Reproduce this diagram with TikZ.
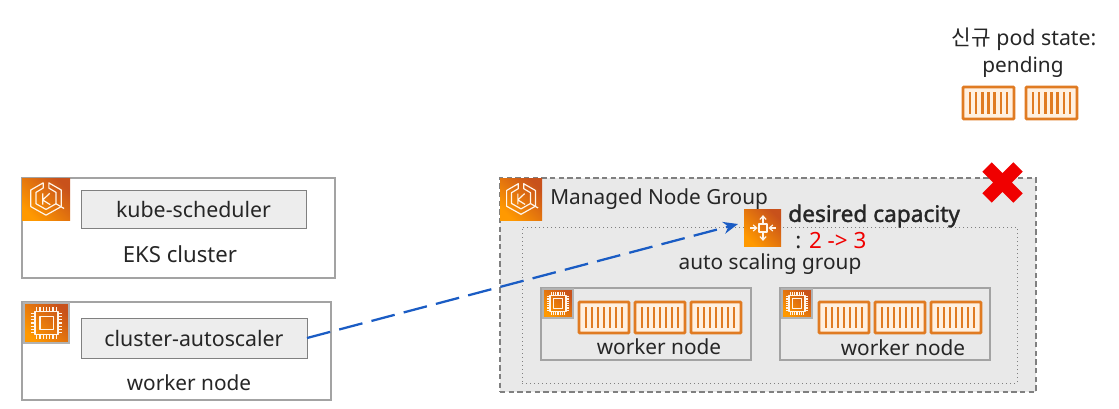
\documentclass[tikz,border=0pt]{standalone}
\usepackage{fontspec}
\setmainfont{Noto Sans}
\newfontfamily\krfont{Noto Sans CJK KR}
\newfontfamily\boldfam{Noto Sans}[FakeBold=1.6]
\usetikzlibrary{arrows.meta}
\definecolor{ink}{HTML}{262626}
\definecolor{frame}{HTML}{A3A3A3}
\definecolor{panel}{HTML}{E9E9E9}
\definecolor{inner}{HTML}{EDEDED}
\definecolor{orangeD}{HTML}{C8511B}
\definecolor{orangeL}{HTML}{FF9900}
\definecolor{podc}{HTML}{E07B22}
\definecolor{arrowblue}{HTML}{1A5CC4}
\definecolor{xred}{HTML}{F00000}
\tikzset{
  lbl/.style={text=ink,font=\fontsize{15.6pt}{18pt}\selectfont,inner sep=0pt},
  plainbox/.style={draw=frame,line width=1.2pt,fill=white},
  nodebox/.style={draw=frame,line width=1.2pt,fill=panel},
  procbox/.style={draw=black!50,line width=.7pt,fill=inner},
  groupbox/.style={draw=black!50,line width=.8pt,dash pattern=on 4pt off 2.5pt,fill=panel},
  asgbox/.style={draw=black!50,line width=.7pt,dash pattern=on 1pt off 2pt},
  iconbox/.style={shading=axis,left color=orangeD,right color=orangeL,shading angle=-45},
  iconframed/.style={iconbox,draw=black!30,line width=.8pt},
  glyph/.style={draw=white!92!orange,line width=.9pt,line join=round},
  podbox/.style={draw=podc,line width=2pt,fill=white!88!orange,rounded corners=.5pt},
  podbar/.style={draw=podc,line width=1.8pt},
}
\newcommand{\rectnode}[7][]{%
  \pgfmathsetmacro{\cxv}{(#4+#6)/2}\pgfmathsetmacro{\cyv}{(#5+#7)/2}%
  \pgfmathsetmacro{\wv}{(#6-#4)*.75}\pgfmathsetmacro{\hv}{(#7-#5)*.75}%
  \node[#2,inner sep=0pt,outer sep=0pt,minimum width=\wv pt,minimum height=\hv pt] (#3) at (\cxv,\cyv) {#1};}
\newcommand{\podicon}[5]{%
  \rectnode{podbox}{#1}{#2}{#3}{#4}{#5}%
  \pgfmathsetmacro{\stepv}{(#4-#2-14)/6}%
  \foreach \ii in {0,...,6}{%
    \pgfmathsetmacro{\bx}{#2+7+\ii*\stepv}%
    \draw[podbar] (\bx,#3+5) -- (\bx,#5-5);}}
\newcommand{\chipglyph}[3]{%
  \begin{scope}[shift={(#1,#2)},scale=#3]
    \draw[glyph] (-13,-13) rectangle (13,13);
    \draw[glyph] (-7.5,-7.5) rectangle (7.5,7.5);
    \foreach \tt in {-11,-7.3,-3.7,0,3.7,7.3,11}{%
      \draw[glyph] (\tt,-18) -- (\tt,-13);
      \draw[glyph] (\tt,13) -- (\tt,18);
      \draw[glyph] (-18,\tt) -- (-13,\tt);
      \draw[glyph] (13,\tt) -- (18,\tt);}
  \end{scope}}
\newcommand{\eksglyph}[3]{%
  \begin{scope}[shift={(#1,#2)},scale=#3]
    \draw[glyph] (-3,-17) -- (-16,-9.5) -- (-16,8) -- (0,17) -- (16,8) -- (16,-9.5) -- (3,-17) -- (3,-11.5) -- (10.5,-7) -- (10.5,5) -- (0,11) -- (-10.5,5) -- (-10.5,-7) -- (-3,-11.5) -- cycle;
    \draw[glyph] (10.5,5) -- (19,10);
    \draw[glyph] (-3.5,-6) -- (-3.5,6) (4,-6) -- (-3.5,1) -- (4.5,6);
  \end{scope}}
\newcommand{\scaleglyph}[3]{%
  \begin{scope}[shift={(#1,#2)},scale=#3,>={Straight Barb[length=2.6pt,width=4.6pt]}]
    \draw[glyph] (-6,-6) rectangle (6,6);
    \draw[glyph,->] (0,-8) -- (0,-19);
    \draw[glyph,->] (0,8) -- (0,19);
    \draw[glyph,->] (-19,0) -- (-8,0);
    \draw[glyph,->] (19,0) -- (8,0);
  \end{scope}}
\begin{document}
\begin{tikzpicture}[x=.75pt,y=-.75pt]
\useasboundingbox (0,0) rectangle (1119,408);
% left column
\rectnode{plainbox}{eks}{22}{178}{335}{278}
\rectnode{iconbox}{eksicon}{22}{178}{70}{220}
\eksglyph{46}{199}{.95}
\rectnode[\fontsize{16pt}{18pt}\selectfont\color{ink}\raisebox{-1pt}{kube-scheduler}]{procbox}{sched}{81}{190}{306}{228}
\node[lbl,font=\fontsize{16.6pt}{18pt}\selectfont] (ekslabel) at (180,254) {EKS cluster};
\rectnode{plainbox}{wn}{22}{302}{331}{400}
\rectnode{iconframed}{wnicon}{24}{303}{69}{343}
\chipglyph{46.5}{323}{.88}
\rectnode[\fontsize{16pt}{18pt}\selectfont\color{ink}\raisebox{-1pt}{cluster-autoscaler}]{procbox}{ca}{81}{318}{307}{358}
\node[lbl] (wnlabel) at (189,383) {worker node};
% managed node group
\rectnode{groupbox}{mng}{500}{178}{1036}{392}
\rectnode{asgbox}{asg}{522}{227}{1017}{383}
\rectnode{iconbox}{mngicon}{500}{178}{542}{220}
\eksglyph{521}{199}{.9}
\node[lbl,anchor=west] (mnglabel) at (550,199) {Managed Node Group};
\rectnode{iconbox}{scaleicon}{744}{209}{781}{246}
\scaleglyph{763}{228}{.68}
\node[lbl,anchor=west,font=\fontsize{17pt}{18pt}\boldfam] (dc) at (788,216) {desired capacity};
\node[lbl,anchor=west,font=\fontsize{16.8pt}{18pt}\selectfont] (dcval) at (795,240.5) {: \textcolor{xred}{2 -> 3}};
\node[lbl] (asglabel) at (770,264.5) {auto scaling group};
% worker 1
\rectnode{nodebox}{wa}{541}{288}{751}{360}
\rectnode{iconframed}{waicon}{543}{289}{573}{318}
\chipglyph{558}{303.5}{.62}
\podicon{pa1}{579}{302}{629}{333}
\podicon{pa2}{635}{302}{685}{333}
\podicon{pa3}{691}{302}{741}{333}
\node[lbl] (walabel) at (659,347) {worker node};
% worker 2
\rectnode{nodebox}{wb}{780}{288}{990}{360}
\rectnode{iconframed}{wbicon}{782}{289}{812}{318}
\chipglyph{797}{303.5}{.62}
\podicon{pb1}{819}{302}{869}{333}
\podicon{pb2}{875}{302}{925}{333}
\podicon{pb3}{931}{302}{981}{333}
\node[lbl] (wblabel) at (903,348) {worker node};
% red cross
\draw[xred,line width=10pt] (987,167) -- (1018,198) (1018,167) -- (987,198);
% pending pods
\node[lbl,font=\fontsize{16pt}{18pt}\selectfont] (newpod) at (1024,39.5) {{\krfont 신규} pod state:};
\node[lbl] (pending) at (1023,67) {pending};
\podicon{p1}{963}{87}{1014}{119}
\podicon{p2}{1026}{87}{1077}{119}
% connector
\coordinate (tip) at (738,224);
\draw[arrowblue,line width=1.7pt,dash pattern=on 18pt off 7pt,-{Stealth[length=11pt,width=9pt]}] (ca.east) -- (tip);
\end{tikzpicture}
\end{document}
